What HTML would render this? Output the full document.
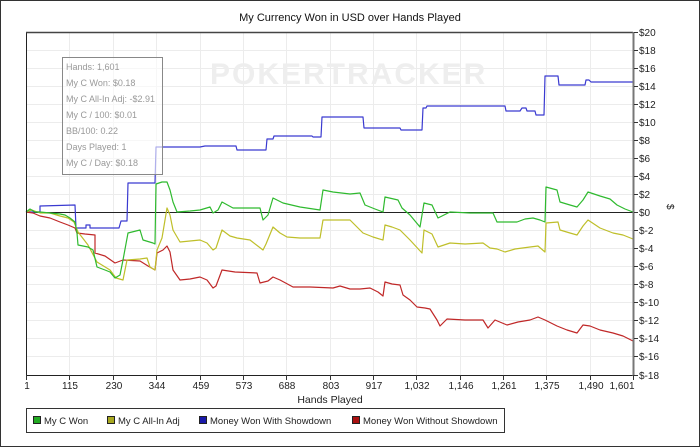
<!DOCTYPE html>
<html><head><meta charset="utf-8"><style>
html,body{margin:0;padding:0;background:#fff;}
svg{display:block;font-family:"Liberation Sans",sans-serif;}
</style></head><body>
<svg width="700" height="447" viewBox="0 0 700 447" xmlns="http://www.w3.org/2000/svg">
<rect x="0.5" y="0.5" width="699" height="446" fill="#fff" stroke="#333" stroke-width="1"/>
<text x="350" y="21" font-size="11" text-anchor="middle" fill="#111">My Currency Won in USD over Hands Played</text>
<g stroke="#ececec" stroke-width="1">
<line x1="69.5" y1="32" x2="69.5" y2="375"/><line x1="113.5" y1="32" x2="113.5" y2="375"/><line x1="156.5" y1="32" x2="156.5" y2="375"/><line x1="200.5" y1="32" x2="200.5" y2="375"/><line x1="243.5" y1="32" x2="243.5" y2="375"/><line x1="286.5" y1="32" x2="286.5" y2="375"/><line x1="330.5" y1="32" x2="330.5" y2="375"/><line x1="373.5" y1="32" x2="373.5" y2="375"/><line x1="416.5" y1="32" x2="416.5" y2="375"/><line x1="460.5" y1="32" x2="460.5" y2="375"/><line x1="503.5" y1="32" x2="503.5" y2="375"/><line x1="546.5" y1="32" x2="546.5" y2="375"/><line x1="590.5" y1="32" x2="590.5" y2="375"/>
<line x1="26" y1="50.5" x2="633" y2="50.5"/><line x1="26" y1="68.5" x2="633" y2="68.5"/><line x1="26" y1="86.5" x2="633" y2="86.5"/><line x1="26" y1="104.5" x2="633" y2="104.5"/><line x1="26" y1="122.5" x2="633" y2="122.5"/><line x1="26" y1="140.5" x2="633" y2="140.5"/><line x1="26" y1="158.5" x2="633" y2="158.5"/><line x1="26" y1="176.5" x2="633" y2="176.5"/><line x1="26" y1="194.5" x2="633" y2="194.5"/><line x1="26" y1="230.5" x2="633" y2="230.5"/><line x1="26" y1="248.5" x2="633" y2="248.5"/><line x1="26" y1="266.5" x2="633" y2="266.5"/><line x1="26" y1="284.5" x2="633" y2="284.5"/><line x1="26" y1="302.5" x2="633" y2="302.5"/><line x1="26" y1="320.5" x2="633" y2="320.5"/><line x1="26" y1="338.5" x2="633" y2="338.5"/><line x1="26" y1="356.5" x2="633" y2="356.5"/>
</g>
<text x="210" y="84" font-size="30" fill="#eeeeee" font-weight="bold" letter-spacing="2">POKERTRACKER</text>
<line x1="26" y1="212.5" x2="633" y2="212.5" stroke="#222" stroke-width="1"/>
<g fill="none" stroke-width="1.2" stroke-linejoin="round">
<polyline stroke="#3a3ad0" points="26,212 40,212 40,206 75,205 76,228 86,228 86,225 90,225 90,228 119,228 121,221 127,221 128,183 155,183 156,147 200,147 205,146 236,146 237,150 266,150 267,139 273,139 274,136 312,136 313,137 321,137 322,117 363,117 364,128 400,128 401,130 422,130 423,108 426,108 427,106 505,106 506,111 520,111 522,108 526,108 527,111 535,111 536,115 544,115 545,76 558,76 559,85 585,85 586,80 589,80 591,82 633,82"/>
<polyline stroke="#c02828" points="26,212 33,213 40,216 50,218 60,222 68,225 75,228 77,233 85,234 95,235 95,253 105,256 115,263 123,260 140,261 148,266 155,270 157,253 163,250 167,246 170,252 173,270 180,280 190,279 200,277 207,280 213,288 216,286 222,270 235,272 257,273 260,283 268,281 273,277 280,280 293,287 310,287 333,288 340,286 350,289 360,289 370,288 378,292 383,296 385,282 392,284 400,285 403,295 410,300 417,307 425,308 430,309 437,320 440,326 447,319 465,320 483,320 488,328 495,320 507,325 518,322 530,320 538,317 545,320 557,326 567,330 577,333 583,325 590,326 600,330 613,333 623,336 633,341"/>
<polyline stroke="#bfbf2a" points="26,212 32,210 40,213 50,213 60,216 68,218 74,222 78,232 88,245 97,262 110,270 116,278 123,280 127,260 140,259 147,258 150,267 155,270 157,250 162,238 167,208 170,215 173,230 180,242 190,241 200,240 207,243 213,250 216,248 222,230 230,236 237,238 250,240 263,250 266,244 273,227 280,233 287,237 300,238 320,238 323,220 340,220 350,220 356,226 363,233 373,237 383,240 385,225 392,227 400,230 410,240 422,253 424,230 432,234 438,247 450,243 465,244 483,243 490,248 497,249 505,252 515,249 530,247 538,246 545,252 546,223 558,222 560,230 570,233 577,235 583,226 588,220 600,228 613,233 623,235 633,239"/>
<polyline stroke="#2fba2f" points="26,212 30,209 35,212 40,212 50,213 60,214 65,215 70,218 75,222 77,233 78,245 88,247 93,250 97,267 105,270 110,272 115,278 120,275 123,260 128,233 140,230 143,240 153,243 155,244 156,184 162,182 167,182 170,190 173,202 177,212 190,211 200,210 210,207 213,213 218,210 222,202 233,208 250,208 260,208 263,220 268,215 273,198 283,203 300,207 320,210 323,190 333,192 350,194 360,193 365,205 375,209 383,212 385,197 398,200 402,208 410,215 420,227 424,203 432,205 438,218 450,212 470,213 493,213 497,222 505,222 517,222 525,219 533,218 540,220 545,222 546,187 557,190 560,202 570,205 577,207 583,200 588,192 600,196 610,199 617,205 625,209 633,212"/>
</g>
<line x1="26.5" y1="32" x2="26.5" y2="375" stroke="#222"/>
<line x1="26" y1="32.5" x2="633" y2="32.5" stroke="#444" stroke-width="1.5"/>
<line x1="26" y1="375.5" x2="634" y2="375.5" stroke="#222"/>
<line x1="633.5" y1="32" x2="633.5" y2="376" stroke="#777" stroke-width="2"/>
<g stroke="#333">
<line x1="634" y1="32.5" x2="638" y2="32.5"/><line x1="634" y1="50.5" x2="638" y2="50.5"/><line x1="634" y1="68.5" x2="638" y2="68.5"/><line x1="634" y1="86.5" x2="638" y2="86.5"/><line x1="634" y1="104.5" x2="638" y2="104.5"/><line x1="634" y1="122.5" x2="638" y2="122.5"/><line x1="634" y1="140.5" x2="638" y2="140.5"/><line x1="634" y1="158.5" x2="638" y2="158.5"/><line x1="634" y1="176.5" x2="638" y2="176.5"/><line x1="634" y1="194.5" x2="638" y2="194.5"/><line x1="634" y1="212.5" x2="638" y2="212.5"/><line x1="634" y1="230.5" x2="638" y2="230.5"/><line x1="634" y1="248.5" x2="638" y2="248.5"/><line x1="634" y1="266.5" x2="638" y2="266.5"/><line x1="634" y1="284.5" x2="638" y2="284.5"/><line x1="634" y1="302.5" x2="638" y2="302.5"/><line x1="634" y1="320.5" x2="638" y2="320.5"/><line x1="634" y1="338.5" x2="638" y2="338.5"/><line x1="634" y1="356.5" x2="638" y2="356.5"/><line x1="634" y1="375.5" x2="638" y2="375.5"/>
<line x1="26.5" y1="375" x2="26.5" y2="380"/><line x1="69.5" y1="375" x2="69.5" y2="380"/><line x1="113.5" y1="375" x2="113.5" y2="380"/><line x1="156.5" y1="375" x2="156.5" y2="380"/><line x1="200.5" y1="375" x2="200.5" y2="380"/><line x1="243.5" y1="375" x2="243.5" y2="380"/><line x1="286.5" y1="375" x2="286.5" y2="380"/><line x1="330.5" y1="375" x2="330.5" y2="380"/><line x1="373.5" y1="375" x2="373.5" y2="380"/><line x1="416.5" y1="375" x2="416.5" y2="380"/><line x1="460.5" y1="375" x2="460.5" y2="380"/><line x1="503.5" y1="375" x2="503.5" y2="380"/><line x1="546.5" y1="375" x2="546.5" y2="380"/><line x1="590.5" y1="375" x2="590.5" y2="380"/><line x1="633.5" y1="375" x2="633.5" y2="380"/>
</g>
<g font-size="10" fill="#222">
<text x="639" y="36">$20</text><text x="639" y="54">$18</text><text x="639" y="72">$16</text><text x="639" y="90">$14</text><text x="639" y="108">$12</text><text x="639" y="126">$10</text><text x="639" y="144">$8</text><text x="639" y="162">$6</text><text x="639" y="180">$4</text><text x="639" y="198">$2</text><text x="639" y="216">$0</text><text x="639" y="234">$-2</text><text x="639" y="252">$-4</text><text x="639" y="270">$-6</text><text x="639" y="288">$-8</text><text x="639" y="306">$-10</text><text x="639" y="324">$-12</text><text x="639" y="342">$-14</text><text x="639" y="360">$-16</text><text x="639" y="379">$-18</text>
</g>
<text x="667" y="204" font-size="10" fill="#222" transform="rotate(90 667 204)">$</text>
<g font-size="10" fill="#222" text-anchor="middle">
<text x="27" y="389">1</text><text x="70" y="389">115</text><text x="114" y="389">230</text><text x="157" y="389">344</text><text x="201" y="389">459</text><text x="244" y="389">573</text><text x="287" y="389">688</text><text x="331" y="389">803</text><text x="374" y="389">917</text><text x="417" y="389">1,032</text><text x="461" y="389">1,146</text><text x="504" y="389">1,261</text><text x="547" y="389">1,375</text><text x="591" y="389">1,490</text><text x="622" y="389">1,601</text>
</g>
<text x="330" y="403" font-size="10.5" fill="#222" text-anchor="middle">Hands Played</text>
<rect x="62.5" y="57.5" width="100" height="117" fill="#fff" fill-opacity="0.6" stroke="#888"/>
<g font-size="9" fill="#999">
<text x="66" y="70">Hands: 1,601</text><text x="66" y="86">My C Won: $0.18</text><text x="66" y="102">My C All-In Adj: -$2.91</text><text x="66" y="118">My C / 100: $0.01</text><text x="66" y="134">BB/100: 0.22</text><text x="66" y="150">Days Played: 1</text><text x="66" y="166">My C / Day: $0.18</text>
</g>
<rect x="26.5" y="408.5" width="478" height="24" fill="#fff" stroke="#333"/>
<g font-size="9.5" fill="#222">
<rect x="33.5" y="416.5" width="7" height="7" fill="#22aa22" stroke="#222"/><text x="44" y="424">My C Won</text>
<rect x="107.5" y="416.5" width="7" height="7" fill="#a8a820" stroke="#222"/><text x="118" y="424">My C All-In Adj</text>
<rect x="199.5" y="416.5" width="7" height="7" fill="#1a1aaa" stroke="#222"/><text x="210" y="424">Money Won With Showdown</text>
<rect x="352.5" y="416.5" width="7" height="7" fill="#aa1111" stroke="#222"/><text x="363" y="424">Money Won Without Showdown</text>
</g>
</svg>
</body></html>
